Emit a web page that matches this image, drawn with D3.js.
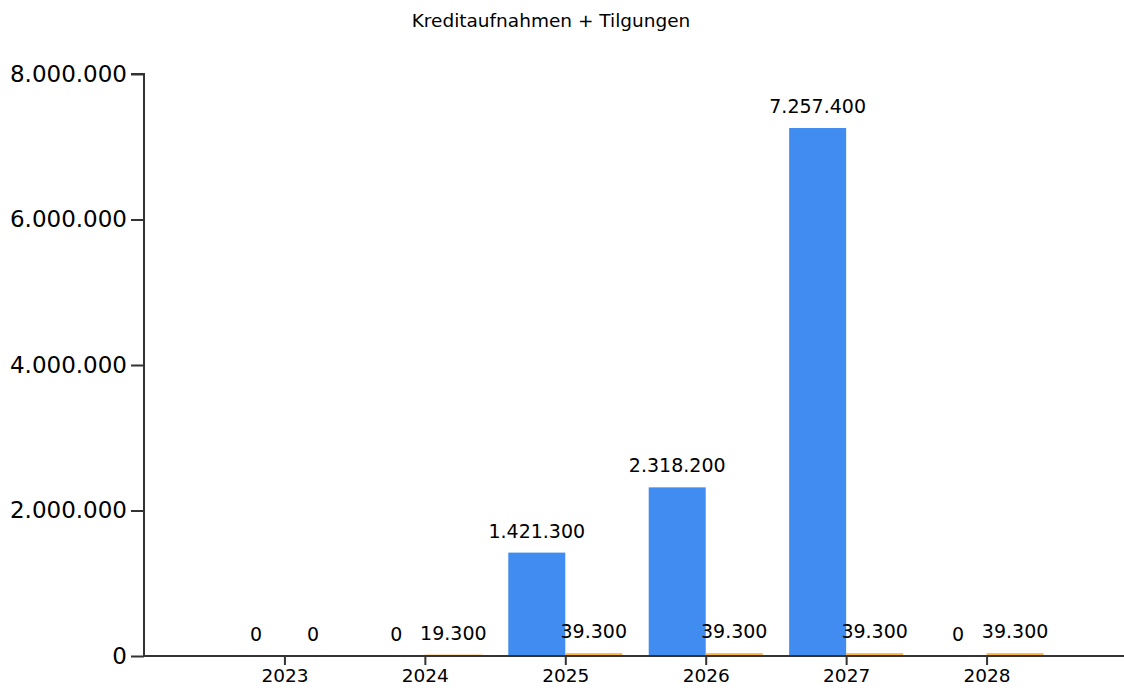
<!DOCTYPE html>
<html><head><meta charset="utf-8">
<script src="https://cdn.jsdelivr.net/npm/d3@7"></script>
<style>body{margin:0;background:#fff}svg{display:block}</style>
</head><body>
<svg id="c" width="1124" height="695"></svg>
<script>
const title = "Kreditaufnahmen + Tilgungen";
const years = ["2023","2024","2025","2026","2027","2028"];
const kreditaufnahmen = [0, 0, 1421300, 2318200, 7257400, 0];
const tilgungen = [0, 19300, 39300, 39300, 39300, 39300];
const yTicks = [0, 2000000, 4000000, 6000000, 8000000];
const colors = ["#418CF0", "#FCB441"];

const loc = d3.formatLocale({decimal:",", thousands:".", grouping:[3], currency:["","€"]});
const fmt = loc.format(",d");

const svg = d3.select("#c");
const mLeft = 144, mRight = 1127, mTop = 74, mBottom = 656;
const x = d3.scalePoint().domain(years).range([mLeft, mRight]).padding(1);
const y = d3.scaleLinear().domain([0, 8000000]).range([mBottom, mTop]);
const bw = 57;

svg.append("text").attr("x", 551).attr("y", 27).attr("text-anchor","middle")
  .attr("font-family","DejaVu Sans").attr("font-size", 18.5).attr("fill","#000").text(title);

// bars
const series = [kreditaufnahmen, tilgungen];
series.forEach((vals, si) => {
  const g = svg.append("g");
  g.selectAll("rect").data(vals).join("rect")
    .attr("x", (d,i) => x(years[i]) + (si === 0 ? -bw : 0))
    .attr("width", bw)
    .attr("y", d => y(d))
    .attr("height", d => y(0) - y(d))
    .attr("fill", colors[si]);
  g.selectAll("text").data(vals).join("text")
    .attr("x", (d,i) => x(years[i]) + (si === 0 ? -bw/2 : bw/2))
    .attr("y", d => y(d) - 15)
    .attr("text-anchor","middle")
    .attr("font-family","DejaVu Sans").attr("font-size", 19).attr("fill","#000")
    .text(d => fmt(d));
});

// y axis
const ya = svg.append("g").attr("transform", `translate(${mLeft},0)`)
  .call(d3.axisLeft(y).tickValues(yTicks).tickFormat(fmt).tickSize(13).tickPadding(4));
ya.select(".domain").attr("stroke","#333").attr("stroke-width",2).attr("d", `M-13,${mTop}H0V${mBottom}`);
ya.selectAll(".tick line").attr("stroke","#333").attr("stroke-width",2);
ya.selectAll(".tick text").attr("font-family","DejaVu Sans").attr("font-size",23).attr("fill","#000");

// x axis
const xa = svg.append("g").attr("transform", `translate(0,${mBottom})`)
  .call(d3.axisBottom(x).tickSize(9).tickPadding(4));
xa.select(".domain").attr("stroke","#333").attr("stroke-width",2).attr("d", `M${mLeft},0H1124`);
xa.selectAll(".tick line").attr("stroke","#333").attr("stroke-width",2);
xa.selectAll(".tick text").attr("font-family","DejaVu Sans").attr("font-size",18.5).attr("fill","#000");
</script>
</body></html>
